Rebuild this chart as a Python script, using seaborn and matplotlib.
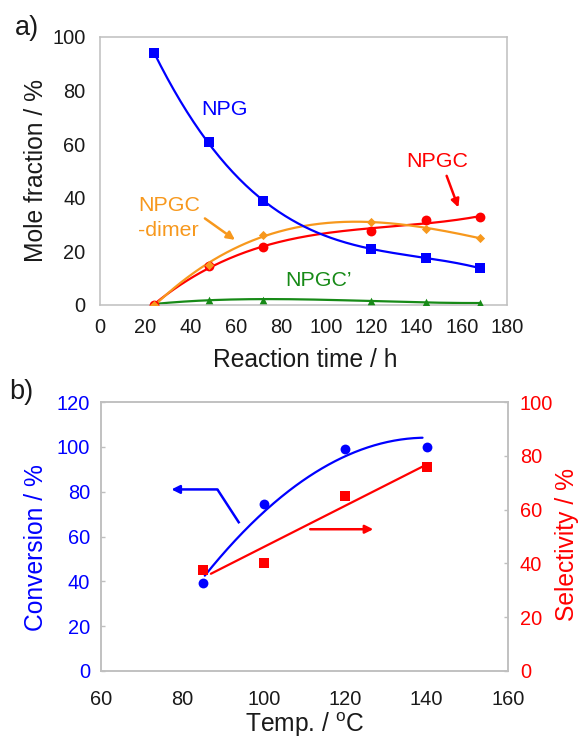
import numpy as np
import pandas as pd
import matplotlib
matplotlib.use("Agg")
import matplotlib.pyplot as plt
import seaborn as sns

sns.set_theme(style="white")
plt.rcParams["font.family"] = ["Liberation Sans", "DejaVu Sans"]
plt.rcParams["mathtext.fontset"] = "custom"
plt.rcParams["mathtext.rm"] = "Liberation Sans"
plt.rcParams["mathtext.it"] = "Liberation Sans:italic"

# ---- (a) composition vs reaction time ----
time_h = [24, 48, 72, 120, 144, 168]
npg = [93.9, 60.7, 38.9, 20.9, 17.7, 13.7]
npgc = [0.0, 14.5, 21.5, 27.7, 31.7, 32.7]
npgc_dimer = [0.0, 14.9, 26.1, 31.1, 28.4, 25.1]
npgc_prime = [0.3, 2.0, 2.0, 1.5, 1.0, 0.7]

# ---- (b) conversion / selectivity vs temperature ----
temp_c = [85, 100, 120, 140]
conversion = [39.2, 74.3, 98.9, 99.8]
selectivity = [37.5, 40.3, 65.1, 76.0]

BLUE = "#0000FF"
RED = "#FF0000"
ORANGE = "#F7981D"
GREEN = "#178A17"
GRAY = "#BFBFBF"
INK = "#1A1A1A"

TICK_FS = 14.4
LABEL_FS = 17.7
NOTE_FS = 15.4


def trend(x, y, deg, x0, x1):
    """Least-squares polynomial trend line evaluated on [x0, x1]."""
    coef = np.polyfit(x, y, deg)
    xs = np.linspace(x0, x1, 200)
    return pd.DataFrame({"x": xs, "y": np.polyval(coef, xs)})


def plateau_trend(x, y, x0, x1):
    """Parabola with its vertex at the highest x (levelling off), least squares."""
    x = np.asarray(x, float)
    y = np.asarray(y, float)
    u = (x - x.max()) ** 2
    c, k = np.polyfit(u, y, 1)
    xs = np.linspace(x0, x1, 200)
    return pd.DataFrame({"x": xs, "y": k + c * (xs - x.max()) ** 2})


def frame(ax):
    for sp in ax.spines.values():
        sp.set_color(GRAY)
        sp.set_linewidth(1.1)
        sp.set_visible(True)


fig = plt.figure(figsize=(5.84, 7.40), dpi=100)
ax1 = fig.add_axes([100 / 584, 1 - 305 / 740, 407 / 584, 268 / 740])
ax2 = fig.add_axes([101 / 584, 1 - 671 / 740, 407 / 584, 269 / 740])
ax2r = ax2.twinx()

# panel (a): fitted trend curves, then the measured points on top
series = [
    (npgc_prime, GREEN, "^", 30),
    (npgc, RED, "o", 50),
    (npgc_dimer, ORANGE, "D", 22),
    (npg, BLUE, "s", 62),
]
for vals, col, mk, sz in series:
    fit = trend(time_h, vals, 3, 24, 168)
    sns.lineplot(data=fit, x="x", y="y", ax=ax1, color=col, linewidth=1.6,
                 sort=False, zorder=2)
for vals, col, mk, sz in series:
    sns.scatterplot(x=time_h, y=vals, ax=ax1, color=col, marker=mk, s=sz,
                    linewidth=0, zorder=3)

ax1.set_xlim(0, 180)
ax1.set_ylim(0, 100)
ax1.set_xticks(range(0, 181, 20))
ax1.set_yticks(range(0, 101, 20))
ax1.set_xlabel("Reaction time / h", fontsize=LABEL_FS, color=INK)
ax1.set_ylabel("Mole fraction / %", fontsize=LABEL_FS, color=INK)
ax1.xaxis.set_label_coords(0.504, -0.16)
ax1.yaxis.set_label_coords(-0.128, 0.5)
ax1.tick_params(axis="both", direction="in", length=3, width=1, color=GRAY,
                labelsize=TICK_FS, labelcolor=INK)
ax1.tick_params(axis="x", pad=9.5)
ax1.tick_params(axis="y", pad=10.5)
frame(ax1)

ax1.text(55.2, 72.8, "NPG", color=BLUE, fontsize=NOTE_FS, ha="center", va="center")
ax1.text(149.3, 53.5, "NPGC", color=RED, fontsize=NOTE_FS, ha="center", va="center")
ax1.text(16.8, 32.3, "NPGC\n-dimer", color=ORANGE, fontsize=NOTE_FS,
         ha="left", va="center", linespacing=1.4)
ax1.text(96.8, 9.3, "NPGC\u2019", color=GREEN, fontsize=NOTE_FS, ha="center", va="center")

arrow_kw = dict(arrowstyle="-|>", mutation_scale=12, shrinkA=0, shrinkB=0)
ax1.annotate("", xy=(59.7, 24.3), xytext=(46.4, 32.3),
             arrowprops=dict(color=ORANGE, lw=1.8, **arrow_kw))
ax1.annotate("", xy=(158.5, 36.4), xytext=(153.3, 48.2),
             arrowprops=dict(color=RED, lw=1.8, **arrow_kw))

# panel (b)
conv_fit = plateau_trend(temp_c, conversion, 85.5, 139)
sel_fit = trend(temp_c, selectivity, 1, 87, 140)
sns.lineplot(data=conv_fit, x="x", y="y", ax=ax2, color=BLUE, linewidth=1.6)
sns.scatterplot(x=temp_c, y=conversion, ax=ax2, color=BLUE, marker="o", s=50,
                linewidth=0, zorder=3)
sns.lineplot(data=sel_fit, x="x", y="y", ax=ax2r, color=RED, linewidth=1.6)
sns.scatterplot(x=temp_c, y=selectivity, ax=ax2r, color=RED, marker="s", s=62,
                linewidth=0, zorder=3)

ax2.set_xlim(60, 160)
ax2.set_ylim(0, 120)
ax2r.set_ylim(0, 100)
ax2.set_xticks(range(60, 161, 20))
ax2.set_yticks(range(0, 121, 20))
ax2r.set_yticks(range(0, 101, 20))
ax2.set_xlabel("Temp. / $^{\\mathrm{o}}$C", fontsize=LABEL_FS, color=INK)
ax2.set_ylabel("Conversion / %", fontsize=LABEL_FS, color=BLUE)
ax2r.set_ylabel("Selectivity / %", fontsize=LABEL_FS, color=RED)
ax2.xaxis.set_label_coords(0.50, -0.148)
ax2.yaxis.set_label_coords(-0.13, 0.46)
ax2r.yaxis.set_label_coords(1.115, 0.47)
ax2.tick_params(axis="both", direction="in", length=3, width=1, color=GRAY,
                labelsize=TICK_FS)
ax2.tick_params(axis="x", labelcolor=INK, pad=13.5)
ax2.tick_params(axis="y", labelcolor=BLUE, pad=8)
ax2r.tick_params(axis="y", direction="in", length=3, width=1, color=GRAY,
                 labelsize=TICK_FS, labelcolor=RED, pad=8.5)
frame(ax2)
frame(ax2r)

# pointer arrows to each axis
ax2.plot([94.0, 88.6], [65.9, 81.0], color=BLUE, lw=1.8, solid_capstyle="butt")
ax2.annotate("", xy=(77.3, 81.0), xytext=(88.6, 81.0),
             arrowprops=dict(color=BLUE, lw=1.8, **arrow_kw))
ax2r.annotate("", xy=(126.9, 52.7), xytext=(111.4, 52.7),
              arrowprops=dict(color=RED, lw=1.8, **arrow_kw))

fig.text(27 / 584, 1 - 28 / 740, "a)", fontsize=19.5, color=INK, ha="center", va="center")
fig.text(21 / 584, 1 - 392 / 740, "b)", fontsize=19.5, color=INK, ha="center", va="center")

fig.savefig("out.png", dpi=100)
